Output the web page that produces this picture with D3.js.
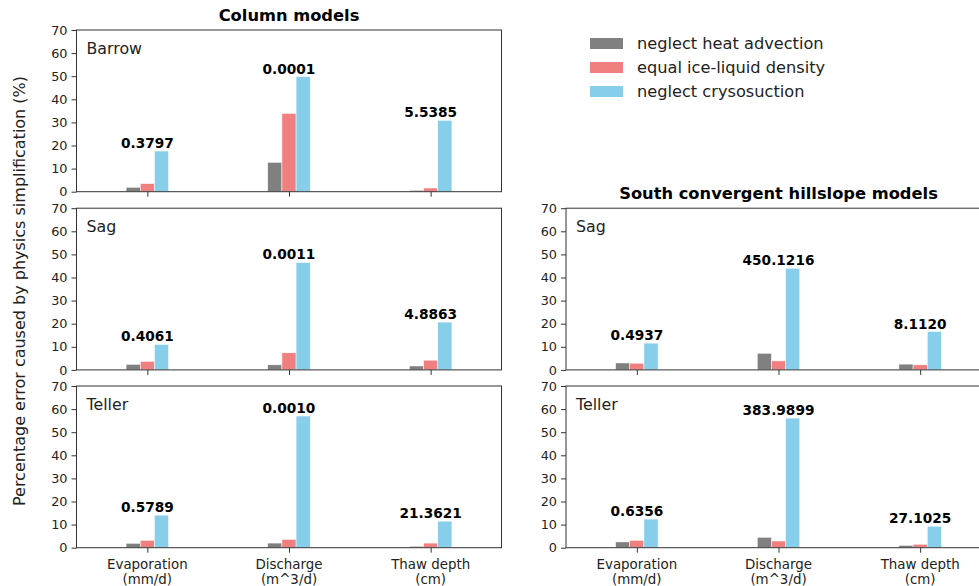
<!DOCTYPE html>
<html>
<head>
<meta charset="utf-8">
<script src="https://cdn.jsdelivr.net/npm/d3@7"></script>
<style>
  html, body { margin: 0; padding: 0; background: #fff; }
  svg { display: block; font-family: "DejaVu Sans", sans-serif; }
</style>
</head>
<body>
<svg id="chart" width="979" height="586"></svg>
<script>
// ---- data ----
const categories = ["Evaporation", "Discharge", "Thaw depth"];
const categoryUnits = ["(mm/d)", "(m^3/d)", "(cm)"];
const seriesNames = ["neglect heat advection", "equal ice-liquid density", "neglect crysosuction"];
const seriesColors = ["#808080", "#F08080", "#87CEEB"];
const yTicks = [0, 10, 20, 30, 40, 50, 60, 70];

// Column models
const barrowHeat = [1.9, 12.7, 0.6];
const barrowDensity = [3.5, 33.9, 1.6];
const barrowCryo = [17.6, 49.8, 30.9];
const barrowLabels = ["0.3797", "0.0001", "5.5385"];

const sagColHeat = [2.4, 2.2, 1.7];
const sagColDensity = [3.7, 7.4, 4.2];
const sagColCryo = [11.0, 46.5, 20.7];
const sagColLabels = ["0.4061", "0.0011", "4.8863"];

const tellerColHeat = [1.9, 2.0, 0.6];
const tellerColDensity = [3.2, 3.6, 2.0];
const tellerColCryo = [14.1, 57.0, 11.5];
const tellerColLabels = ["0.5789", "0.0010", "21.3621"];

// South convergent hillslope models
const sagHillHeat = [3.0, 7.2, 2.5];
const sagHillDensity = [2.9, 3.9, 2.2];
const sagHillCryo = [11.6, 44.0, 16.6];
const sagHillLabels = ["0.4937", "450.1216", "8.1120"];

const tellerHillHeat = [2.5, 4.5, 1.0];
const tellerHillDensity = [3.2, 2.9, 1.5];
const tellerHillCryo = [12.4, 56.1, 9.3];
const tellerHillLabels = ["0.6356", "383.9899", "27.1025"];

// ---- layout ----
const svg = d3.select("#chart");
const panelW = 425, panelH = 161.7;
const leftX = 76.5, rightX = 566;
const rowY = [30, 208.2, 386];

const panels = [
  {name: "Barrow", x: leftX, y: rowY[0], series: [barrowHeat, barrowDensity, barrowCryo], labels: barrowLabels, xlabels: false},
  {name: "Sag", x: leftX, y: rowY[1], series: [sagColHeat, sagColDensity, sagColCryo], labels: sagColLabels, xlabels: false},
  {name: "Teller", x: leftX, y: rowY[2], series: [tellerColHeat, tellerColDensity, tellerColCryo], labels: tellerColLabels, xlabels: true},
  {name: "Sag", x: rightX, y: rowY[1], series: [sagHillHeat, sagHillDensity, sagHillCryo], labels: sagHillLabels, xlabels: false},
  {name: "Teller", x: rightX, y: rowY[2], series: [tellerHillHeat, tellerHillDensity, tellerHillCryo], labels: tellerHillLabels, xlabels: true}
];

const xScale = d3.scaleLinear().domain([-0.5, 2.5]).range([0, panelW]);
const yScale = d3.scaleLinear().domain([0, 70]).range([panelH, 0]);
const barW = 0.1;
const offsets = [-0.1, 0, 0.1];

panels.forEach(p => {
  const g = svg.append("g").attr("transform", `translate(${p.x},${p.y})`);

  // bars
  p.series.forEach((vals, si) => {
    g.selectAll(null).data(vals).enter().append("rect")
      .attr("x", (d, i) => xScale(i + offsets[si] - barW / 2))
      .attr("width", xScale(barW) - xScale(0))
      .attr("y", d => yScale(d))
      .attr("height", d => yScale(0) - yScale(d))
      .attr("fill", seriesColors[si])
      .attr("stroke", "#fff")
      .attr("stroke-width", 0.5);
  });

  // value labels above cryosuction bar
  g.selectAll(null).data(p.labels).enter().append("text")
    .attr("x", (d, i) => xScale(i))
    .attr("y", (d, i) => yScale(p.series[2][i]) - 3)
    .attr("text-anchor", "middle")
    .attr("font-size", "13.7px")
    .attr("font-weight", "bold")
    .attr("fill", "#000")
    .text(d => d);

  // y axis
  const yAxis = d3.axisLeft(yScale).tickValues(yTicks).tickSize(5).tickPadding(4);
  const ya = g.append("g").call(yAxis);
  ya.select(".domain").remove();
  ya.selectAll("text").attr("font-size", "12.8px").attr("fill", "#222").attr("font-family", "DejaVu Sans");
  ya.selectAll("line").attr("stroke", "#333");

  // x axis
  const xAxis = d3.axisBottom(xScale).tickValues([0, 1, 2]).tickSize(5).tickFormat("");
  const xa = g.append("g").attr("transform", `translate(0,${panelH})`).call(xAxis);
  xa.select(".domain").remove();
  xa.selectAll("line").attr("stroke", "#333");

  if (p.xlabels) {
    categories.forEach((c, i) => {
      const t = g.append("text")
        .attr("x", xScale(i))
        .attr("y", panelH + 21.5)
        .attr("text-anchor", "middle")
        .attr("font-size", "13.4px")
        .attr("fill", "#222");
      t.append("tspan").attr("x", xScale(i)).text(c);
      t.append("tspan").attr("x", xScale(i)).attr("dy", 14.5).text(categoryUnits[i]);
    });
  }

  // frame
  g.append("rect")
    .attr("x", 0).attr("y", 0)
    .attr("width", panelW).attr("height", panelH)
    .attr("fill", "none").attr("stroke", "#333").attr("stroke-width", 1);

  // panel name
  g.append("text")
    .attr("x", 10).attr("y", 24)
    .attr("font-size", "15.8px")
    .attr("fill", "#222")
    .text(p.name);
});

// titles
svg.append("text")
  .attr("x", leftX + xScale(1)).attr("y", 21)
  .attr("text-anchor", "middle")
  .attr("font-size", "16.3px").attr("font-weight", "bold")
  .text("Column models");
svg.append("text")
  .attr("x", rightX + xScale(1)).attr("y", 198.5)
  .attr("text-anchor", "middle")
  .attr("font-size", "16.3px").attr("font-weight", "bold")
  .text("South convergent hillslope models");

// y label
svg.append("text")
  .attr("transform", "translate(25,291) rotate(-90)")
  .attr("text-anchor", "middle")
  .attr("font-size", "16px")
  .attr("fill", "#222")
  .text("Percentage error caused by physics simplification (%)");

// legend
const legend = svg.append("g").attr("transform", "translate(590,38)");
seriesNames.forEach((n, i) => {
  legend.append("rect")
    .attr("x", 0).attr("y", i * 24)
    .attr("width", 33).attr("height", 11)
    .attr("fill", seriesColors[i]);
  legend.append("text")
    .attr("x", 47).attr("y", i * 24 + 11)
    .attr("font-size", "16.2px")
    .attr("fill", "#222")
    .text(n);
});
</script>
</body>
</html>
